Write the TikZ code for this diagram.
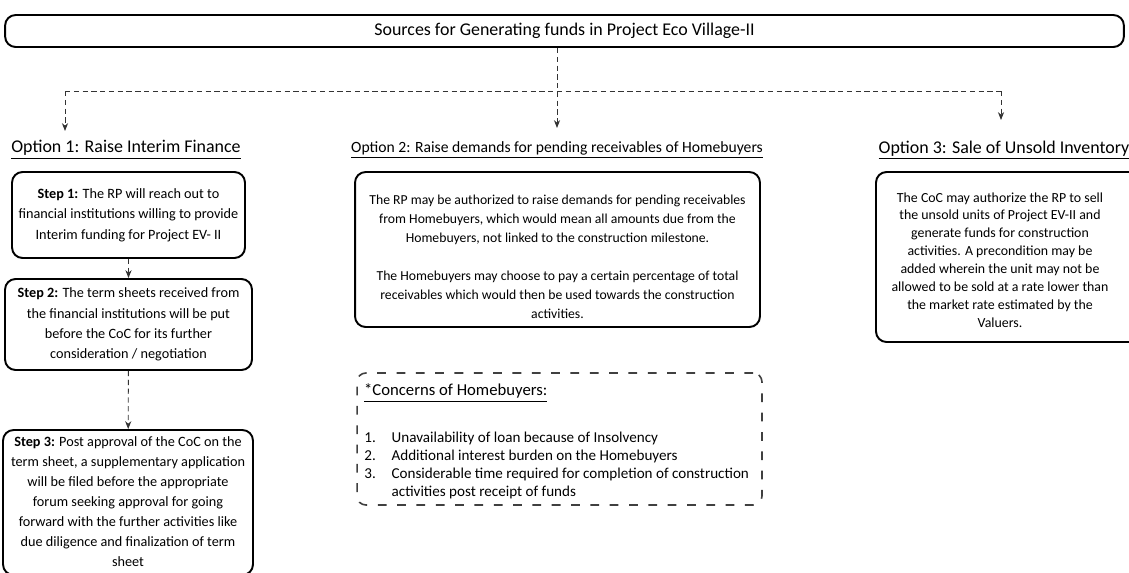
\documentclass[tikz,border=0pt]{standalone}
\usepackage{fontspec}
\setmainfont{Carlito}
\usetikzlibrary{arrows.meta}

\tikzset{
  box/.style={draw, line width=1.1pt, rounded corners=6pt, align=center, inner sep=0pt},
  dbox/.style={draw=black!75, line width=0.9pt, dash pattern=on 5pt off 6pt, rounded corners=5pt, inner sep=0pt},
  link/.style={draw=black!80, densely dashed, line width=0.5pt},
  tip/.style={-{Stealth[length=4.5pt,width=3.5pt]}},
  head/.style={font=\fontsize{10.2}{12}\selectfont, inner sep=1pt},
  body/.style={font=\fontsize{8.1}{11.6}\selectfont},
}

\begin{document}
\begin{tikzpicture}[x=0.02cm, y=-0.02cm]
\useasboundingbox (0,0) rectangle (1129,572);
\clip (0,0) rectangle (1129,572);

% title
\node[box, minimum width=22.38cm, minimum height=0.64cm, font=\fontsize{10.2}{12}\selectfont] (title) at (564.5,31) {Sources for Generating funds in Project Eco Village-II};

% option headings
\node[head] (opt1h) at (126,150) {\underline{Option 1: Raise Interim Finance}};
\node[head, font=\fontsize{8.9}{10}\selectfont] (opt2h) at (557,150) {\underline{Option 2: Raise demands for pending receivables of Homebuyers}};
\node[head] (opt3h) at (1004,150) {\underline{Option 3: Sale of Unsold Inventory}};

% option 1 steps
\node[box, body, minimum width=4.66cm, minimum height=1.72cm] (s1) at (128.5,215)
  {\textbf{Step 1:} The RP will reach out to\\financial institutions willing to provide\\Interim funding for Project EV- II};
\node[box, body, minimum width=4.94cm, minimum height=1.82cm] (s2) at (128.5,324.5)
  {\textbf{Step 2:} The term sheets received from\\the financial institutions will be put\\before the CoC for its further\\consideration / negotiation};
\node[box, body, minimum width=5cm, minimum height=2.9cm] (s3) at (128,502.5) {};
\node[body, font=\fontsize{8.1}{11.4}\selectfont, align=center] (s3txt) at (128,502)
  {\textbf{Step 3:} Post approval of the CoC on the\\term sheet, a supplementary application\\will be filed before the appropriate\\forum seeking approval for going\\forward with the further activities like\\due diligence and finalization of term\\sheet};

% option 2
\node[box, minimum width=8.1cm, minimum height=3.1cm] (opt2) at (557.5,249.5) {};
\node[body, font=\fontsize{7.8}{10.8}\selectfont, align=center] (opt2txt) at (557.5,256.5)
  {The RP may be authorized to raise demands for pending receivables\\from Homebuyers, which would mean all amounts due from the\\Homebuyers, not linked to the construction milestone.\\[10.8pt]
   The Homebuyers may choose to pay a certain percentage of total\\receivables which would then be used towards the construction\\activities.};

\node[dbox, minimum width=8.1cm, minimum height=2.64cm] (cbox) at (559.5,439) {};
\node[head, font=\fontsize{9.5}{11}\selectfont, anchor=west] (chead) at (362,393) {\underline{*Concerns of Homebuyers:}};
\node[body, font=\fontsize{8.6}{10.2}\selectfont, anchor=north west, inner sep=0pt] (clist) at (364,430)
  {\begin{tabular}{@{}l@{\hspace{9pt}}l@{}}
   1. & Unavailability of loan because of Insolvency\\
   2. & Additional interest burden on the Homebuyers\\
   3. & Considerable time required for completion of construction\\
      & activities post receipt of funds
   \end{tabular}};

% option 3
\draw[line width=1.1pt, rounded corners=6pt] (876,172) rectangle (1142,342);
\node[body, font=\fontsize{7.9}{10.2}\selectfont, align=center] (opt3) at (1000,260)
  {The CoC may authorize the RP to sell\\the unsold units of Project EV-II and\\generate funds for construction\\activities. A precondition may be\\added wherein the unit may not be\\allowed to be sold at a rate lower than\\the market rate estimated by the\\Valuers.};

% connectors
\coordinate (split) at (557,91);
\coordinate (lsplit) at (65,91);
\coordinate (rsplit) at (1001,91);
\coordinate (t1) at (65,131);
\coordinate (t2) at (557,128);
\coordinate (t3) at (1001,120);
\path[link, tip] (title.south -| split) -- (t2);
\path[link] (lsplit) -- (rsplit);
\path[link, tip] (lsplit) -- (t1);
\path[link, tip] (rsplit) -- (t3);
\path[link, tip] (s1) -- (s2);
\path[link, tip] (s2) -- (s3);
\end{tikzpicture}
\end{document}
